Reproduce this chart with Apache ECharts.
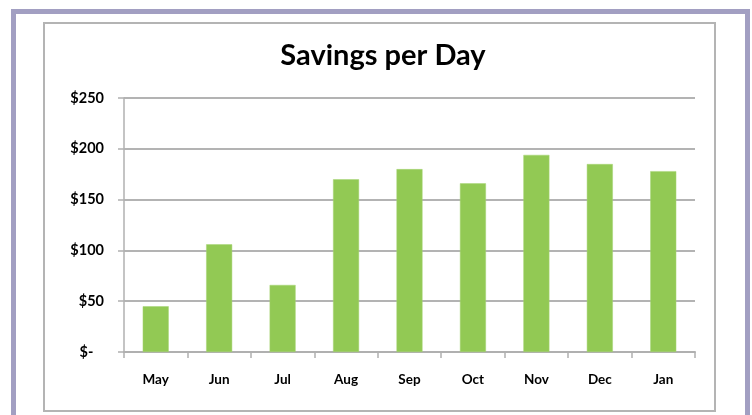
<!DOCTYPE html>
<html>
<head>
<meta charset="utf-8">
<script src="https://cdn.jsdelivr.net/npm/echarts@6/dist/echarts.min.js"></script>
<style>
  html, body { margin: 0; padding: 0; background: #fff; }
  #main { width: 752px; height: 415px; }
</style>
</head>
<body>
<div id="main"></div>
<script>
var months = ['May', 'Jun', 'Jul', 'Aug', 'Sep', 'Oct', 'Nov', 'Dec', 'Jan'];
var savings = [45, 106, 66, 170, 180, 166, 194, 185, 178];
var yTicks = [0, 50, 100, 150, 200, 250];

var myChart = echarts.init(document.getElementById('main'));

var labelFont = 'Lato, "Open Sans", sans-serif';

var option = {
    animation: false,
    backgroundColor: '#fff',
    title: {
        text: 'Savings per Day',
        left: 378,
        top: 36,
        textAlign: 'center',
        textStyle: {
            fontFamily: labelFont,
            fontWeight: 'bold',
            fontSize: 29,
            color: '#000'
        }
    },
    // 外框和图表边框
    graphic: [
        {
            type: 'rect',
            shape: { x: 13.5, y: 11.5, width: 734, height: 430 },
            style: { fill: null, stroke: '#a29fc2', lineWidth: 5 },
            silent: true
        },
        {
            type: 'rect',
            shape: { x: 44, y: 23, width: 671, height: 388 },
            style: { fill: null, stroke: '#b4b4b4', lineWidth: 2 },
            silent: true
        }
    ],
    grid: {
        left: 124,
        right: 57,
        top: 98,
        bottom: 63
    },
    xAxis: {
        type: 'category',
        data: months,
        axisLine: { lineStyle: { color: '#b0b0b0', width: 2 } },
        axisTick: { show: true, length: 6, lineStyle: { color: '#b0b0b0', width: 1.5 } },
        axisLabel: {
            margin: 21,
            fontFamily: labelFont,
            fontWeight: 'bold',
            fontSize: 13.5,
            color: '#000'
        }
    },
    yAxis: {
        type: 'value',
        min: yTicks[0],
        max: yTicks[yTicks.length - 1],
        interval: 50,
        axisLine: { show: true, lineStyle: { color: '#b0b0b0', width: 1.5 } },
        axisTick: { show: true, length: 6, lineStyle: { color: '#b0b0b0', width: 1.5 } },
        splitLine: { lineStyle: { color: '#b3b3b3', width: 2 } },
        axisLabel: {
            margin: 20,
            fontFamily: labelFont,
            fontWeight: 'bold',
            fontSize: 14.5,
            color: '#000',
            formatter: function (v) {
                return v === 0 ? '$-   ' : '$' + v;
            }
        }
    },
    series: [
        {
            name: 'Savings',
            type: 'bar',
            data: savings,
            barWidth: 26,
            itemStyle: { color: '#92c954', borderColor: '#a6d475', borderWidth: 0.5 }
        }
    ]
};

myChart.setOption(option);
</script>
</body>
</html>
